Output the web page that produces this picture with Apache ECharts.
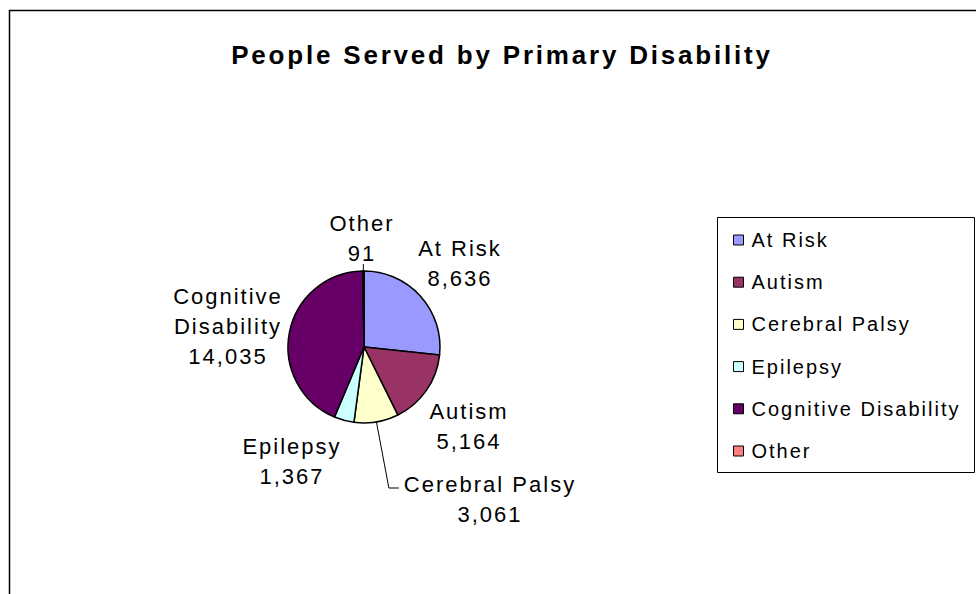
<!DOCTYPE html>
<html>
<head>
<meta charset="utf-8">
<script src="https://cdn.jsdelivr.net/npm/echarts@6/dist/echarts.min.js"></script>
<style>
html,body{margin:0;padding:0;background:#fff;}
#c{width:976px;height:594px;}
#c svg text{letter-spacing:2px;}
#c svg text[style*="bold"], #c svg text[font-weight="bold"]{letter-spacing:2.8px;}
</style>
</head>
<body>
<div id="c"></div>
<script>
const categories = ['At Risk', 'Autism', 'Cerebral Palsy', 'Epilepsy', 'Cognitive Disability', 'Other'];
const labelNames = ['At Risk', 'Autism', 'Cerebral Palsy', 'Epilepsy', 'Cognitive\nDisability', 'Other'];
const values = [8636, 5164, 3061, 1367, 14035, 91];
const colors = ['#9999FF', '#993366', '#FFFFCC', '#CCFFFF', '#660066', '#FF8080'];
const leaderType = ['none', 'none', 'elbow', 'none', 'none', 'vertical'];

// label block centers (layout only)
const labelPos = [[460, 263], [469, 426], [490, 499], [292, 461], [228, 326], [362, 238]];

const FONT = 'Arial, "Liberation Sans", sans-serif';
const SPACING = 2;
const LINE_H = 30;
const chart = echarts.init(document.getElementById('c'), null, {renderer: 'svg'});
chart.setOption({
  animation: false,
  backgroundColor: '#fff',
  graphic: [
    {type: 'rect', shape: {x: 9.5, y: 10.5, width: 1200, height: 1200}, style: {fill: 'none', stroke: '#000', lineWidth: 1.5}, silent: true, z: 0},
    {type: 'rect', shape: {x: 717.5, y: 217.5, width: 257, height: 255}, style: {fill: 'none', stroke: '#000', lineWidth: 1}, silent: true, z: 0}
  ],
  title: {
    text: 'People Served by Primary Disability',
    left: 502, top: 42, textAlign: 'center', padding: 0,
    textStyle: {fontFamily: FONT, fontSize: 26, fontWeight: 'bold', color: '#000'}
  },
  legend: {
    orient: 'vertical',
    left: 733, top: 230,
    padding: 0,
    itemWidth: 10, itemHeight: 10,
    itemGap: 22.2,
    icon: 'rect',
    data: categories,
    selectedMode: false,
    textStyle: {fontFamily: FONT, fontSize: 20, color: '#000', padding: [0, 0, 0, 3]},
    itemStyle: {borderColor: '#000', borderWidth: 1}
  },
  series: [{
    type: 'pie',
    center: [364, 347],
    radius: 76,
    startAngle: 90,
    clockwise: true,
    avoidLabelOverlap: false,
    emphasis: {disabled: true},
    itemStyle: {borderColor: '#000', borderWidth: 1.5},
    label: {
      show: true,
      position: 'outside',
      fontFamily: FONT, fontSize: 22, color: '#000', lineHeight: LINE_H,
      formatter: p => labelNames[p.dataIndex] + '\n' + echarts.format.addCommas(p.value)
    },
    labelLine: {show: true, length: 10, length2: 10, lineStyle: {color: '#000', width: 1}},
    labelLayout: p => {
      const i = p.dataIndex;
      const c = labelPos[i];
      const out = {x: c[0], y: c[1], align: 'center', verticalAlign: 'middle'};
      const pts = p.labelLinePoints;
      if (pts && pts.length) {
        const p0 = pts[0];
        const rect = p.labelRect;
        const firstLine = labelNames[i].split('\n')[0];
        const w = rect.width + firstLine.length * SPACING;
        const top = c[1] - rect.height / 2;
        if (leaderType[i] === 'elbow') {
          const ex = c[0] - w / 2 - 5, ey = top + LINE_H / 2 + 4;
          out.labelLinePoints = [[p0[0], p0[1]], [ex - 10, ey], [ex, ey]];
        } else if (leaderType[i] === 'vertical') {
          const ey = top + rect.height - 4;
          out.labelLinePoints = [[p0[0], p0[1]], [p0[0], ey], [p0[0], ey]];
        }
      }
      return out;
    },
    data: categories.map((n, i) => ({
      name: n, value: values[i],
      itemStyle: {color: colors[i]},
      labelLine: {show: leaderType[i] !== 'none'}
    }))
  }]
});
</script>
</body>
</html>
